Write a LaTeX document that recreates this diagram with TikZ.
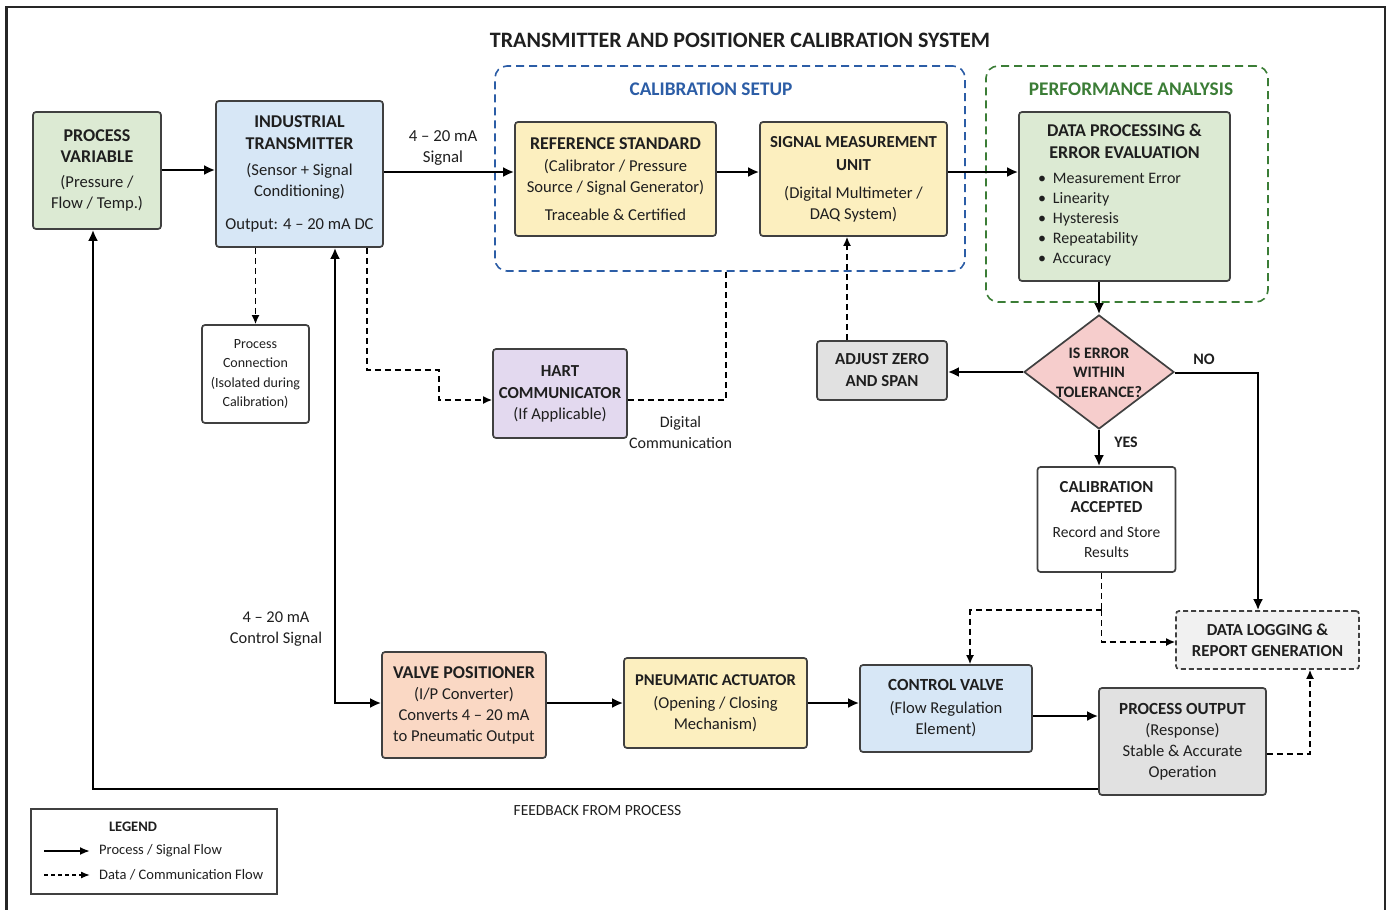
\documentclass[tikz,border=0pt]{standalone}
\usepackage{fontspec}
\setmainfont{Carlito}
\usetikzlibrary{arrows.meta,shapes.geometric}
\definecolor{cgreen}{HTML}{DCEAD3}
\definecolor{cblue}{HTML}{D7E7F6}
\definecolor{cyellow}{HTML}{FCEFBF}
\definecolor{cpeach}{HTML}{FAD8C4}
\definecolor{clav}{HTML}{E3D9EF}
\definecolor{cpink}{HTML}{F6CDCC}
\definecolor{cgray}{HTML}{E1E1E1}
\definecolor{clight}{HTML}{F1F1F1}
\definecolor{cborder}{HTML}{404040}
\definecolor{setblue}{HTML}{2C5DA6}
\definecolor{setgreen}{HTML}{3B7D36}
\newcommand\hd[1]{{\fontsize{18}{21}\selectfont\bfseries #1}}
\newcommand\hm[1]{{\fontsize{17}{21}\selectfont\bfseries #1}}
\newcommand\hs[1]{{\fontsize{16.8}{20}\selectfont\bfseries #1}}
\begin{document}
\begin{tikzpicture}[x=1pt,y=-1pt,
  box/.style={draw=cborder, line width=1.7pt, rounded corners=3pt, align=center,
    inner sep=0pt, text=black!88, font=\fontsize{16.6}{21}\selectfont},
  group/.style={line width=1.6pt, dash pattern=on 8pt off 5pt, rounded corners=12pt,
    inner sep=0pt},
  arr/.style={line width=2.2pt, -{Latex[length=11pt,width=10pt]}},
  darr/.style={line width=1.5pt, dash pattern=on 6pt off 4pt, -{Latex[length=9pt,width=8pt]}},
  dline/.style={line width=1.5pt, dash pattern=on 6pt off 4pt},
  lbl/.style={align=center, inner sep=0pt, text=black!88, font=\fontsize{16.8}{21}\selectfont},
  blbl/.style={align=center, inner sep=0pt, text=black!88, font=\fontsize{16}{21}\selectfont\bfseries}
]
\useasboundingbox (0,0) rectangle (1392,910);
\fill[white] (0,0) rectangle (1392,910);
\draw[line width=2.4pt, black!85] (6.5,915) -- (6.5,7) -- (1385,7) -- (1385,915);

% title
\node[inner sep=0pt, text=black!88, font=\fontsize{22}{24}\selectfont\bfseries] (title) at (740,40) {TRANSMITTER AND POSITIONER CALIBRATION SYSTEM};

% groups
\node[group, draw=setblue, minimum width=470pt, minimum height=205pt] (cal) at (730,168.5) {};
\node[inner sep=0pt, text=setblue, font=\fontsize{19.3}{22}\selectfont\bfseries] (caltitle) at (711,89) {CALIBRATION SETUP};
\node[group, draw=setgreen, minimum width=282pt, minimum height=236pt] (perf) at (1127,184) {};
\node[inner sep=0pt, text=setgreen, font=\fontsize{19.3}{22}\selectfont\bfseries] (perftitle) at (1131,89) {PERFORMANCE ANALYSIS};

% main nodes
\node[box, fill=cgreen, minimum width=128pt, minimum height=117pt] (pv) at (97,170.5)
  {\hd{PROCESS}\\\hd{VARIABLE}\\[4pt](Pressure /\\Flow / Temp.)};
\node[box, fill=cblue, minimum width=167pt, minimum height=146pt] (it) at (299.5,174)
  {\hd{INDUSTRIAL}\\[1pt]\hd{TRANSMITTER}\\[5pt](Sensor + Signal\\Conditioning)\\[12pt]Output: 4 – 20 mA DC};
\node[box, fill=cyellow, minimum width=201pt, minimum height=114pt] (ref) at (615.5,179)
  {\hd{REFERENCE STANDARD}\\[1pt](Calibrator / Pressure\\Source / Signal Generator)\\[7pt]Traceable \& Certified};
\node[box, fill=cyellow, minimum width=187pt, minimum height=114pt] (smu) at (853.5,179)
  {\hs{SIGNAL MEASUREMENT}\\[2pt]\hs{UNIT}\\[7pt](Digital Multimeter /\\DAQ System)};
\node[box, fill=cgreen, minimum width=211pt, minimum height=169pt] (dp) at (1124.5,196.5)
  {\hd{DATA PROCESSING \&}\\[1pt]\hd{ERROR EVALUATION}\\[4pt]%
   {\fontsize{16}{20}\selectfont\begin{tabular}[t]{@{}l@{}}
   \textbullet\hspace{7pt}Measurement Error\\
   \textbullet\hspace{7pt}Linearity\\
   \textbullet\hspace{7pt}Hysteresis\\
   \textbullet\hspace{7pt}Repeatability\\
   \textbullet\hspace{7pt}Accuracy
   \end{tabular}}\hspace*{30pt}};
\node[diamond, draw=cborder, line width=1.7pt, fill=cpink, minimum width=150pt, minimum height=114pt, inner sep=0pt] (dec) at (1099,372) {};
\node[blbl, font=\fontsize{16}{19.5}\selectfont\bfseries] (dectext) at (1099,372.5) {IS ERROR\\WITHIN\\TOLERANCE?};
\node[box, fill=cgray, minimum width=130pt, minimum height=59pt] (adj) at (882,370.5)
  {\hs{ADJUST ZERO}\\[1pt]\hs{AND SPAN}};
\node[box, fill=white, minimum width=138pt, minimum height=105pt, font=\fontsize{15.5}{20}\selectfont] (acc) at (1106.5,519.5)
  {\hs{CALIBRATION}\\\hs{ACCEPTED}\\[5pt]Record and Store\\Results};
\node[box, fill=clight, dash pattern=on 5pt off 3pt, minimum width=183pt, minimum height=58pt] (dlr) at (1267.5,640)
  {\hs{DATA LOGGING \&}\\\hs{REPORT GENERATION}};
\node[box, fill=white, minimum width=107pt, minimum height=98pt, font=\fontsize{14}{19.3}\selectfont] (pc) at (255.5,374)
  {Process\\Connection\\(Isolated during\\Calibration)};
\node[box, fill=clav, minimum width=134pt, minimum height=89pt] (hart) at (560,393.5)
  {\hs{HART}\\[1pt]\hs{COMMUNICATOR}\\(If Applicable)};
\node[box, fill=cpeach, minimum width=164pt, minimum height=106pt] (vp) at (464,705)
  {\hd{VALVE POSITIONER}\\(I/P Converter)\\Converts 4 – 20 mA\\to Pneumatic Output};
\node[box, fill=cyellow, minimum width=183pt, minimum height=90pt] (pa) at (715.5,703)
  {{\fontsize{16.5}{21}\selectfont\bfseries PNEUMATIC ACTUATOR}\\[2pt](Opening / Closing\\Mechanism)};
\node[box, fill=cblue, minimum width=172pt, minimum height=87pt] (cv) at (946,708.5)
  {\hm{CONTROL VALVE}\\[2pt](Flow Regulation\\Element)};
\node[box, fill=cgray, minimum width=167pt, minimum height=107pt] (po) at (1182.5,741.5)
  {\hm{PROCESS OUTPUT}\\(Response)\\Stable \& Accurate\\Operation};

% labels
\node[lbl] (l1) at (443,147.5) {4 – 20 mA\\Signal};
\node[lbl, font=\fontsize{16}{21}\selectfont] (l2) at (680.5,432) {Digital\\Communication};
\node[lbl, font=\fontsize{16.4}{21}\selectfont] (l3) at (276,629) {4 – 20 mA\\Control Signal};
\node[blbl] (lno) at (1204,359) {NO};
\node[blbl] (lyes) at (1126,442) {YES};
\node[lbl, font=\fontsize{15.5}{20}\selectfont] (lfb) at (597.5,811) {FEEDBACK FROM PROCESS};

% helper coordinates
\coordinate (y170) at (0,170);
\coordinate (y172) at (0,172);
\coordinate (y373) at (0,373);
\coordinate (y642) at (0,642);
\coordinate (y716) at (0,716);
\coordinate (y789) at (0,789);
\coordinate (y400) at (0,400);
\coordinate (y754) at (0,754);
\coordinate (x93) at (93,0);
\coordinate (x335) at (335,0);
\coordinate (x367) at (367,0);
\coordinate (x726) at (726,0);
\coordinate (x847) at (847,0);
\coordinate (x970) at (970,0);
\coordinate (x1258) at (1258,0);
\coordinate (x1310) at (1310,0);
\coordinate (bend1) at (439,370);
\coordinate (split) at (1101.5,610);

% solid connectors
\draw[arr] (pv.east |- y170) -- (it.west |- y170);
\draw[arr] (it.east |- y172) -- (ref.west |- y172);
\draw[arr] (ref.east |- y172) -- (smu.west |- y172);
\draw[arr] (smu.east |- y172) -- (dp.west |- y172);
\draw[arr] (dp.south -| dec.north) -- (dec.north);
\draw[arr] (dec.west) -- (dec.west -| adj.east);
\draw[arr] (dec.east |- y373) -| (x1258 |- dlr.north);
\draw[arr] (dec.south) -- (dec.south |- acc.north);
\draw[arr] (pa.west -| vp.east) -- (pa.west);
\draw[arr] (pa.east) -- (pa.east -| cv.west);
\draw[arr] (cv.east |- y716) -- (po.west |- y716);
\draw[line width=2.2pt, {Latex[length=11pt,width=10pt]}-{Latex[length=11pt,width=10pt]}] (x335 |- it.south) -- (x335 |- pa.west) -- (vp.west |- pa.west);
\draw[arr] (po.west |- y789) -| (x93 |- pv.south);

% dashed connectors
\draw[darr] (pc.north |- it.south) -- (pc.north);
\draw[darr] (x367 |- it.south) |- (bend1) |- (hart.west |- y400);
\draw[dline] (hart.east |- y400) -| (x726 |- cal.south);
\draw[darr] (x847 |- adj.north) -- (x847 |- smu.south);
\draw[dline] (split |- acc.south) -- (split);
\draw[darr] (split) -| (x970 |- cv.north);
\draw[darr] (split) |- (dlr.west |- y642);
\draw[darr] (po.east |- y754) -| (x1310 |- dlr.south);

% legend
\node[draw=cborder, line width=1.4pt, minimum width=246pt, minimum height=85pt, inner sep=0pt] (legend) at (154,851.5) {};
\node[blbl, font=\fontsize{14.5}{18}\selectfont\bfseries] (legtitle) at (133,827) {LEGEND};
\coordinate (la1) at (44,851);
\coordinate (la2) at (90,851);
\coordinate (lb1) at (44,875);
\coordinate (lb2) at (90,875);
\draw[line width=1.9pt, -{Latex[length=10pt,width=8pt]}] (la1) -- (la2);
\draw[line width=1.4pt, dash pattern=on 4pt off 3pt, -{Latex[length=9pt,width=7pt]}] (lb1) -- (lb2);
\node[lbl, anchor=west, font=\fontsize{14.5}{18}\selectfont] (lt1) at (99,851) {Process / Signal Flow};
\node[lbl, anchor=west, font=\fontsize{14.5}{18}\selectfont] (lt2) at (99,875) {Data / Communication Flow};
\end{tikzpicture}
\end{document}
